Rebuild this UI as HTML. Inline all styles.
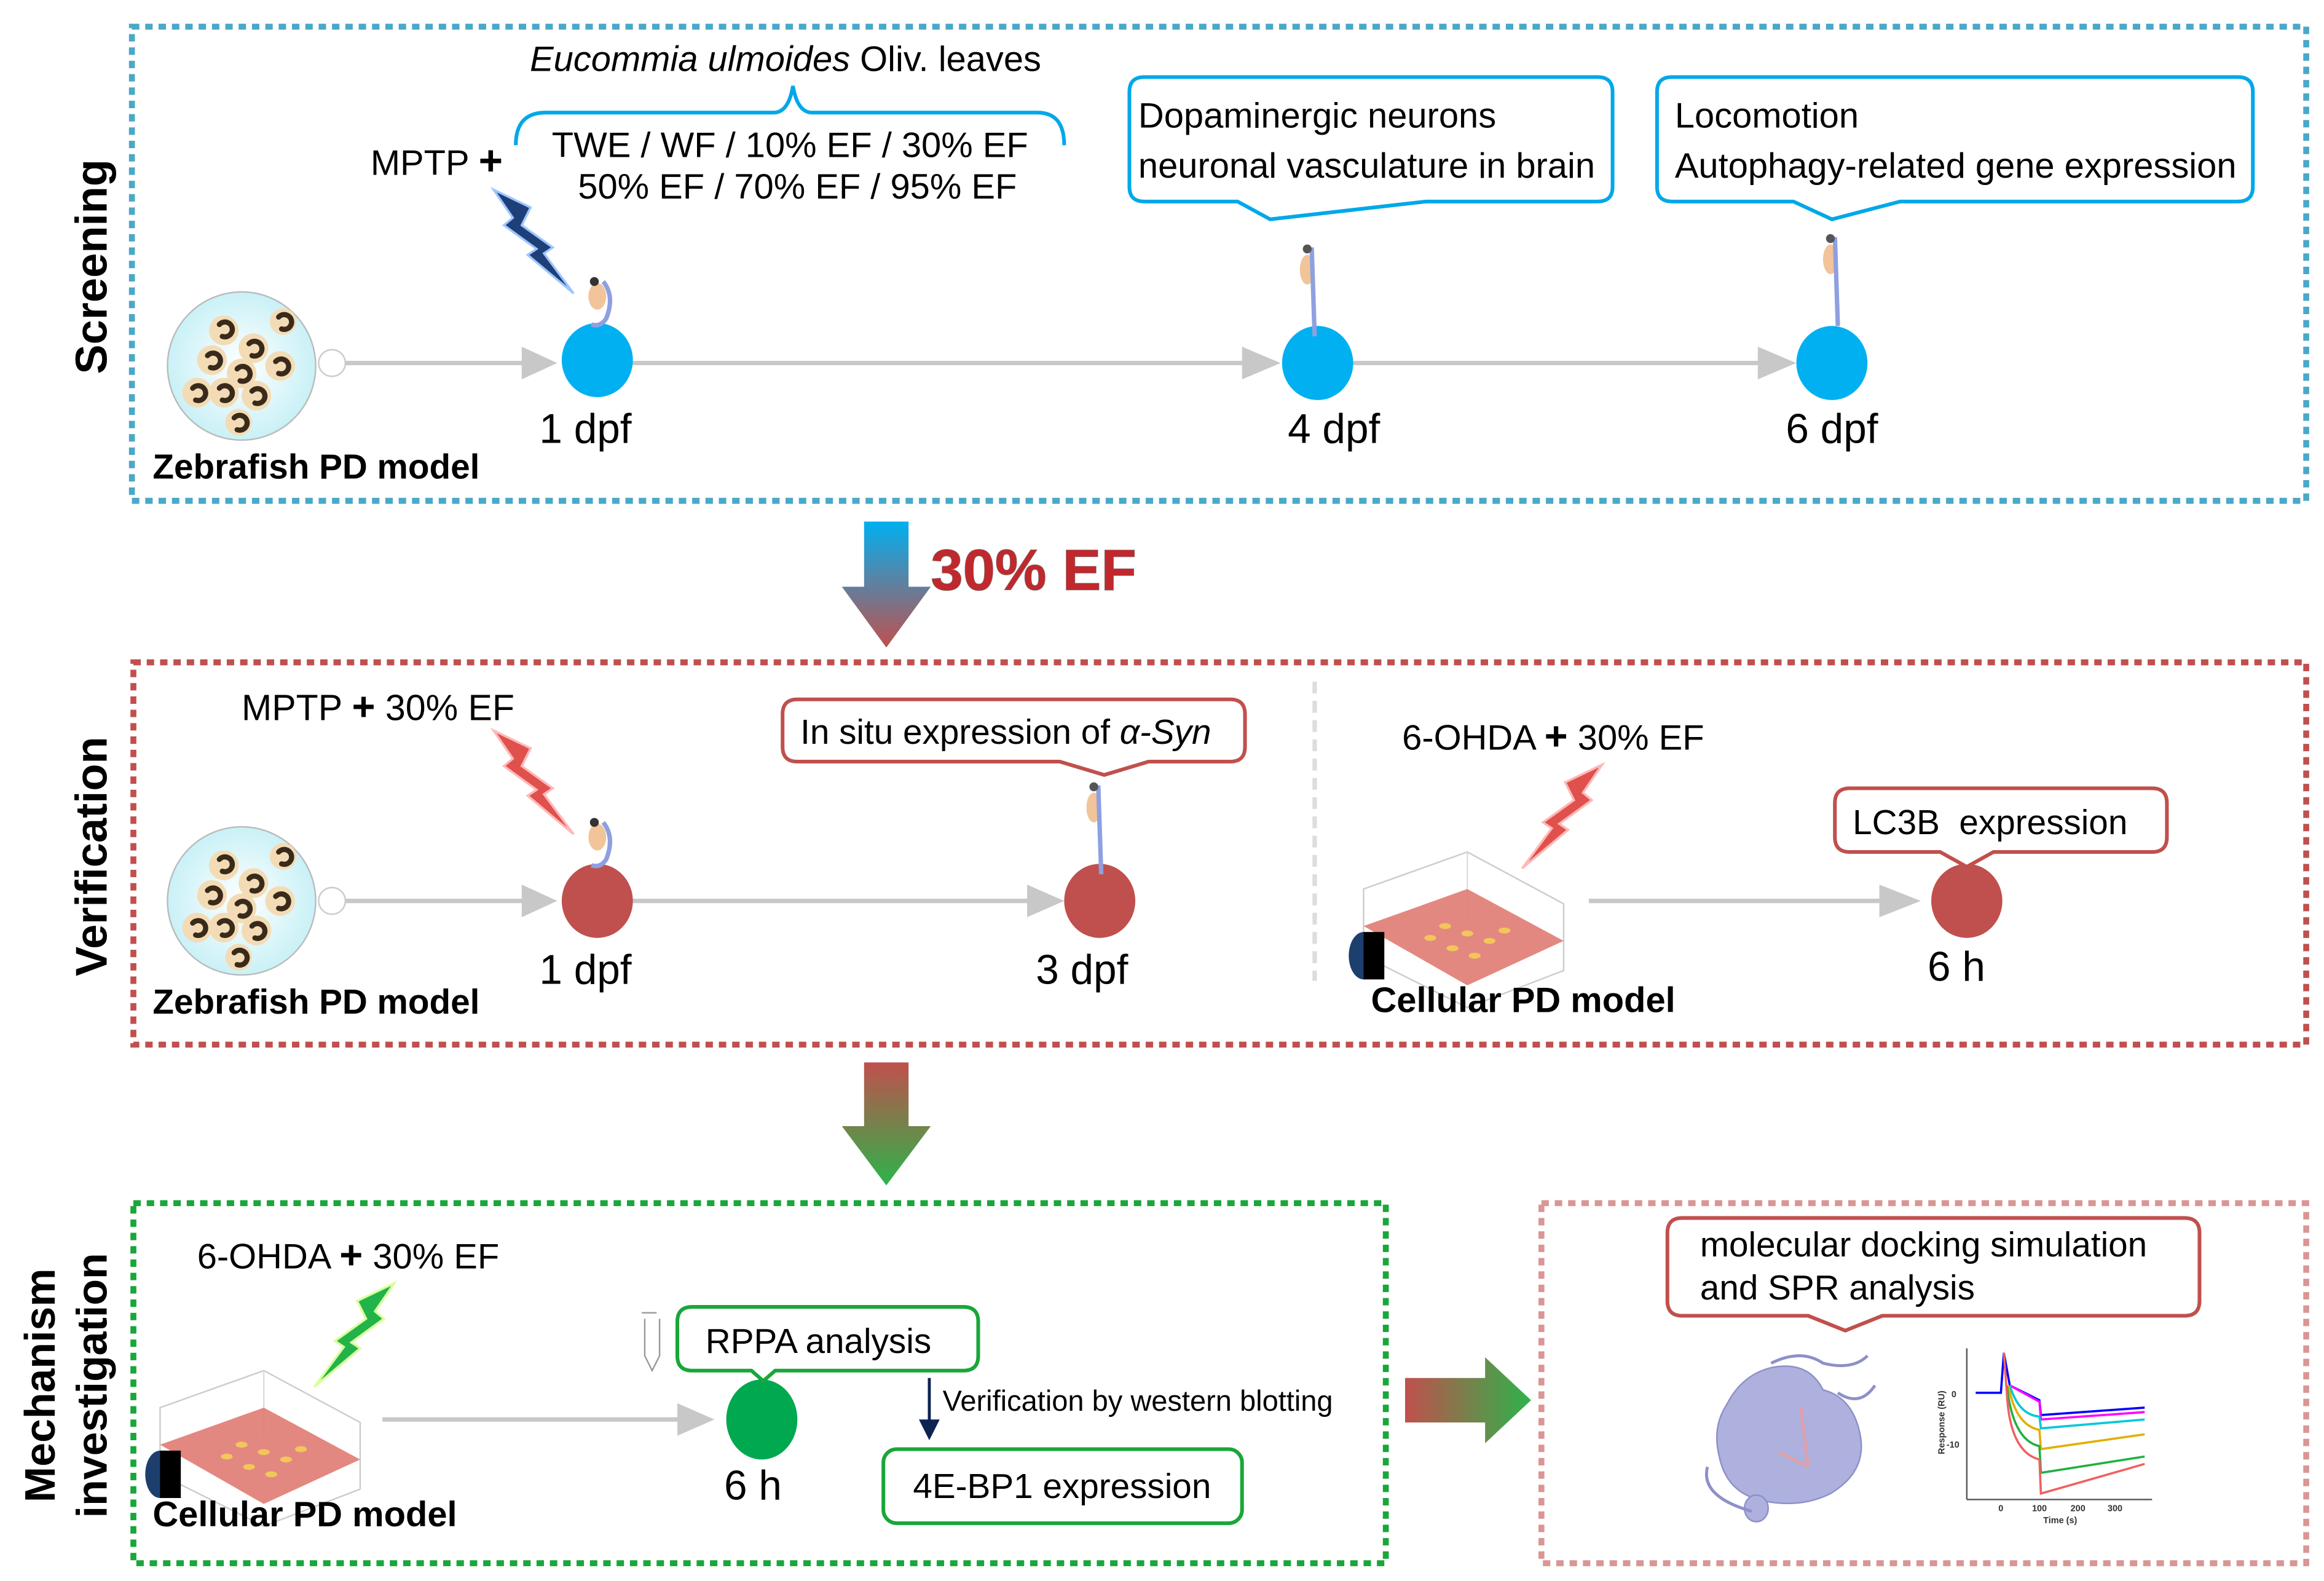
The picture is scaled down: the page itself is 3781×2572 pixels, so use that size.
<!DOCTYPE html>
<html><head><meta charset="utf-8"><style>
html,body{margin:0;padding:0;background:#fff;}
svg{display:block;}
text{font-family:"Liberation Sans",Arial,sans-serif;}
</style></head><body>
<svg width="3781" height="2572" viewBox="0 0 1568 1067" preserveAspectRatio="none" xmlns="http://www.w3.org/2000/svg">
<defs>
<radialGradient id="dish" cx="50%" cy="50%" r="50%"><stop offset="0" stop-color="#ffffff"/><stop offset="1" stop-color="#c9f1f7"/></radialGradient>
<linearGradient id="g1" x1="0" y1="0" x2="0" y2="1"><stop offset="0" stop-color="#00b0f0"/><stop offset="1" stop-color="#c0504d"/></linearGradient>
<linearGradient id="g2" x1="0" y1="0" x2="0" y2="1"><stop offset="0" stop-color="#c0504d"/><stop offset="1" stop-color="#2db34a"/></linearGradient>
<linearGradient id="g3" x1="0" y1="0" x2="1" y2="0"><stop offset="0" stop-color="#c0504d"/><stop offset="1" stop-color="#2db34a"/></linearGradient>
<g id="dishg">
<circle cx="0" cy="0" r="50" fill="url(#dish)" stroke="#bbb" stroke-width="1"/>
<g fill="#f3dcb5"><circle cx="-12" cy="-24" r="10"/><circle cx="28" cy="-30" r="9"/><circle cx="8" cy="-12" r="10"/><circle cx="-20" cy="-4" r="10"/><circle cx="0" cy="5" r="10"/><circle cx="26" cy="0" r="10"/><circle cx="-30" cy="18" r="10"/><circle cx="-12" cy="18" r="10"/><circle cx="10" cy="20" r="10"/><circle cx="-2" cy="38" r="9"/></g>
<g fill="none" stroke="#3a2a1a" stroke-width="3.5" stroke-linecap="round"><path d="M-15,-28 a5,5 0 1,1 2,8"/><path d="M25,-33 a5,5 0 1,1 2,8"/><path d="M5,-15 a5,5 0 1,1 2,8"/><path d="M-23,-7 a5,5 0 1,1 2,8"/><path d="M-3,2 a5,5 0 1,1 2,8"/><path d="M23,-3 a5,5 0 1,1 2,8"/><path d="M-33,15 a5,5 0 1,1 2,8"/><path d="M-15,15 a5,5 0 1,1 2,8"/><path d="M7,17 a5,5 0 1,1 2,8"/><path d="M-5,35 a5,5 0 1,1 2,8"/></g>
</g>
<g id="flask">
<path d="M0,0 L70,-25 L135,10 L135,55 L70,80 L0,45 Z" fill="none" stroke="#ccc" stroke-width="1"/>
<line x1="70" y1="-25" x2="70" y2="20" stroke="#ddd" stroke-width="1"/>
<path d="M0,25 L70,0 L135,35 L70,65 Z" fill="#e07b72" opacity="0.9"/>
<g fill="#f2c65a"><ellipse cx="55" cy="25" rx="4" ry="2"/><ellipse cx="70" cy="30" rx="4" ry="2"/><ellipse cx="85" cy="35" rx="4" ry="2"/><ellipse cx="60" cy="40" rx="4" ry="2"/><ellipse cx="75" cy="45" rx="4" ry="2"/><ellipse cx="95" cy="28" rx="4" ry="2"/><ellipse cx="45" cy="33" rx="4" ry="2"/></g>
<ellipse cx="0" cy="45" rx="10" ry="16" fill="#1c3f6e"/><rect x="0" y="29" width="14" height="32" fill="#000"/>
</g>
<g id="larva1"><ellipse cx="0" cy="0" rx="6" ry="9" fill="#f1c49a"/><path d="M4,-10 q8,10 2,25 q-4,6 -10,4" fill="none" stroke="#8ea0e0" stroke-width="3"/><circle cx="-2" cy="-10" r="3" fill="#333"/></g>
<g id="larva2"><ellipse cx="0" cy="0" rx="5" ry="10" fill="#f1c49a"/><path d="M3,-15 L5,45" fill="none" stroke="#8ea0e0" stroke-width="3"/><circle cx="0" cy="-14" r="3" fill="#555"/></g>
</defs>

<!-- ============ Screening ============ -->
<rect x="89" y="18" width="1467" height="320" fill="none" stroke="#4aa8c8" stroke-width="4" stroke-dasharray="5,4"/>
<text transform="translate(72,180) rotate(-90)" text-anchor="middle" font-size="30" font-weight="bold">Screening</text>
<use href="#dishg" x="163" y="247"/>
<circle cx="224" cy="245" r="9" fill="#fff" stroke="#ccc" stroke-width="1"/>
<g stroke="#c8c8c8" stroke-width="3"><line x1="233" y1="245" x2="355" y2="245"/><line x1="426" y1="245" x2="842" y2="245"/><line x1="912" y1="245" x2="1190" y2="245"/></g>
<g fill="#c8c8c8"><polygon points="352,234 376,245 352,256"/><polygon points="838,234 864,245 838,256"/><polygon points="1186,234 1212,245 1186,256"/></g>
<ellipse cx="403" cy="243" rx="24" ry="25" fill="#00b0f0"/>
<ellipse cx="889" cy="245" rx="24" ry="25" fill="#00b0f0"/>
<ellipse cx="1236" cy="245" rx="24" ry="25" fill="#00b0f0"/>
<text x="395" y="299" text-anchor="middle" font-size="28">1 dpf</text>
<text x="900" y="299" text-anchor="middle" font-size="28">4 dpf</text>
<text x="1236" y="299" text-anchor="middle" font-size="28">6 dpf</text>
<text x="103" y="323" font-size="23.5" font-weight="bold">Zebrafish PD model</text>
<text x="250" y="118" font-size="24">MPTP <tspan font-weight="bold" font-size="28">+</tspan></text>
<polygon points="333,128 358,140 352,152 373,167 367,171 387,198 356,172 362,168 340,152 346,147" fill="#1f3f78" stroke="#9ec6ff" stroke-width="1.5"/>
<use href="#larva1" x="403" y="200"/>
<text x="530" y="48" text-anchor="middle" font-size="24"><tspan font-style="italic">Eucommia ulmoides</tspan> Oliv. leaves</text>
<path d="M348,98 q0,-22 20,-22 L522,76 q10,0 13,-18 q3,18 13,18 L700,76 q18,0 18,22" fill="none" stroke="#00a8e8" stroke-width="2.5"/>
<text x="533" y="106" text-anchor="middle" font-size="24">TWE / WF / 10% EF / 30% EF</text>
<text x="538" y="134" text-anchor="middle" font-size="24">50% EF / 70% EF / 95% EF</text>
<path d="M772,52 L1078,52 q10,0 10,10 L1088,126 q0,10 -10,10 L962,136 L857,148 L835,136 L772,136 q-10,0 -10,-10 L762,62 q0,-10 10,-10 Z" fill="#fff" stroke="#00a8e8" stroke-width="2.5"/>
<text x="768" y="86" font-size="24">Dopaminergic neurons</text>
<text x="768" y="120" font-size="24">neuronal vasculature in brain</text>
<path d="M1128,52 L1510,52 q10,0 10,10 L1520,126 q0,10 -10,10 L1282,136 L1236,148 L1210,136 L1128,136 q-10,0 -10,-10 L1118,62 q0,-10 10,-10 Z" fill="#fff" stroke="#00a8e8" stroke-width="2.5"/>
<text x="1130" y="86" font-size="24">Locomotion</text>
<text x="1130" y="120" font-size="24">Autophagy-related gene expression</text>
<use href="#larva2" x="882" y="182"/>
<use href="#larva2" x="1235" y="175"/>

<!-- arrow 1 -->
<path d="M583,352 L613,352 L613,396 L628,396 L598,437 L568,396 L583,396 Z" fill="url(#g1)"/>
<text x="628" y="398" font-size="39" font-weight="bold" fill="#c0282d" stroke="#777" stroke-width="0.6" style="paint-order:stroke">30% EF</text>

<!-- ============ Verification ============ -->
<rect x="90" y="447" width="1466" height="258" fill="none" stroke="#c0504d" stroke-width="4" stroke-dasharray="5,4"/>
<text transform="translate(72,578) rotate(-90)" text-anchor="middle" font-size="30" font-weight="bold">Verification</text>
<use href="#dishg" x="163" y="608"/>
<circle cx="224" cy="608" r="9" fill="#fff" stroke="#ccc" stroke-width="1"/>
<g stroke="#c8c8c8" stroke-width="3"><line x1="233" y1="608" x2="355" y2="608"/><line x1="426" y1="608" x2="696" y2="608"/><line x1="1072" y1="608" x2="1272" y2="608"/></g>
<g fill="#c8c8c8"><polygon points="352,597 376,608 352,619"/><polygon points="693,597 718,608 693,619"/><polygon points="1268,597 1296,608 1268,619"/></g>
<ellipse cx="403" cy="608" rx="24" ry="25" fill="#c0504d"/>
<ellipse cx="742" cy="608" rx="24" ry="25" fill="#c0504d"/>
<ellipse cx="1327" cy="608" rx="24" ry="25" fill="#c0504d"/>
<text x="395" y="664" text-anchor="middle" font-size="28">1 dpf</text>
<text x="730" y="664" text-anchor="middle" font-size="28">3 dpf</text>
<text x="1320" y="662" text-anchor="middle" font-size="28">6 h</text>
<text x="103" y="684" font-size="23.5" font-weight="bold">Zebrafish PD model</text>
<text x="163" y="486" font-size="24.5">MPTP <tspan font-weight="bold" font-size="27">+</tspan> 30% EF</text>
<polygon points="333,493 358,505 352,517 373,532 367,536 387,563 356,537 362,533 340,517 346,512" fill="#e0504d" stroke="#ffb8b8" stroke-width="1.5"/>
<use href="#larva1" x="403" y="565"/>
<use href="#larva2" x="738" y="545"/>
<path d="M538,472 L830,472 q10,0 10,10 L840,504 q0,10 -10,10 L775,514 L745,523 L715,514 L538,514 q-10,0 -10,-10 L528,482 q0,-10 10,-10 Z" fill="#fff" stroke="#c0504d" stroke-width="2.5"/>
<text x="540" y="502" font-size="23.5">In situ expression of <tspan font-style="italic">α-Syn</tspan></text>
<line x1="887" y1="460" x2="887" y2="662" stroke="#ddd" stroke-width="3" stroke-dasharray="8,5"/>
<text x="946" y="506" font-size="24">6-OHDA <tspan font-weight="bold" font-size="27">+</tspan> 30% EF</text>
<polygon points="1081,516 1056,528 1062,540 1041,555 1047,559 1027,586 1058,560 1052,556 1074,540 1068,535" fill="#e0504d" stroke="#ffb8b8" stroke-width="1.5"/>
<use href="#flask" x="920" y="600"/>
<text x="925" y="683" font-size="24" font-weight="bold">Cellular  PD model</text>
<path d="M1248,532 L1452,532 q10,0 10,10 L1462,565 q0,10 -10,10 L1345,575 L1327,585 L1309,575 L1248,575 q-10,0 -10,-10 L1238,542 q0,-10 10,-10 Z" fill="#fff" stroke="#c0504d" stroke-width="2.5"/>
<text x="1250" y="563" font-size="23.5" xml:space="preserve">LC3B  expression</text>

<!-- arrow 2 -->
<path d="M583,717 L613,717 L613,760 L628,760 L598,800 L568,760 L583,760 Z" fill="url(#g2)"/>

<!-- ============ Mechanism ============ -->
<rect x="90" y="812" width="845" height="243" fill="none" stroke="#1aa63a" stroke-width="4" stroke-dasharray="5,4"/>
<text transform="translate(37,935) rotate(-90)" text-anchor="middle" font-size="29" font-weight="bold">Mechanism</text>
<text transform="translate(72,935) rotate(-90)" text-anchor="middle" font-size="29" font-weight="bold">investigation</text>
<text x="133" y="856" font-size="24">6-OHDA <tspan font-weight="bold" font-size="27">+</tspan> 30% EF</text>
<polygon points="266,866 241,878 247,890 226,905 232,909 212,936 243,910 237,906 259,890 253,885" fill="#22b34a" stroke="#d8ff9a" stroke-width="1.5"/>
<use href="#flask" x="108" y="950"/>
<text x="103" y="1030" font-size="24" font-weight="bold">Cellular  PD model</text>
<line x1="258" y1="958" x2="460" y2="958" stroke="#c8c8c8" stroke-width="3"/>
<polygon points="457,947 482,958 457,969" fill="#c8c8c8"/>
<ellipse cx="514" cy="958" rx="24" ry="27" fill="#00a84f"/>
<text x="508" y="1012" text-anchor="middle" font-size="28">6 h</text>
<path d="M433,886 L443,886 M435,890 L435,915 L440,925 L445,915 L445,890" fill="none" stroke="#999" stroke-width="1"/>
<path d="M467,882 L650,882 q10,0 10,10 L660,915 q0,10 -10,10 L523,925 L515,932 L507,925 L467,925 q-10,0 -10,-10 L457,892 q0,-10 10,-10 Z" fill="#fff" stroke="#1aa63a" stroke-width="2.5"/>
<text x="476" y="913" font-size="23.5">RPPA analysis</text>
<line x1="627" y1="930" x2="627" y2="960" stroke="#0d2350" stroke-width="2"/>
<polygon points="620,958 634,958 627,972" fill="#0d2350"/>
<text x="636" y="952" font-size="19.5">Verification by western blotting</text>
<rect x="596" y="978" width="242" height="50" rx="9" fill="#fff" stroke="#1aa63a" stroke-width="2.5"/>
<text x="616" y="1011" font-size="23.5">4E-BP1 expression</text>

<!-- horizontal arrow -->
<path d="M948,930 L1002,930 L1002,916 L1033,945 L1002,974 L1002,960 L948,960 Z" fill="url(#g3)"/>

<!-- right box -->
<rect x="1040" y="812" width="516" height="243" fill="none" stroke="#d99694" stroke-width="4" stroke-dasharray="5,4"/>
<path d="M1135,822 L1474,822 q10,0 10,10 L1484,878 q0,10 -10,10 L1270,888 L1245,898 L1220,888 L1135,888 q-10,0 -10,-10 L1125,832 q0,-10 10,-10 Z" fill="#fff" stroke="#c0504d" stroke-width="2.5"/>
<text x="1147" y="848" font-size="23.5">molecular docking simulation</text>
<text x="1147" y="877" font-size="23.5">and SPR analysis</text>
<!-- protein -->
<g fill="#aeb0de" stroke="#8d90c8" stroke-width="1">
<path d="M1165,948 q10,-20 30,-25 q25,-5 35,15 q20,5 25,30 q5,25 -20,40 q-20,10 -45,5 q-25,-5 -30,-30 q-5,-20 5,-35 Z"/>
<ellipse cx="1185" cy="1018" rx="8" ry="9"/>
</g>
<path d="M1195,920 q20,-10 35,0 q20,5 30,-5 M1240,940 q15,10 25,-5 M1152,990 q-5,20 30,30" fill="none" stroke="#8d90c8" stroke-width="2"/>
<path d="M1215,950 l5,40 M1200,980 l20,10" stroke="#e0a0a8" stroke-width="2"/>
<!-- SPR chart -->
<g stroke="#555" stroke-width="1" fill="none"><line x1="1327" y1="910" x2="1327" y2="1012"/><line x1="1327" y1="1012" x2="1452" y2="1012"/></g>
<g font-size="6" font-weight="bold" fill="#333"><text x="1320" y="943" text-anchor="end">0</text><text x="1322" y="977" text-anchor="end">-10</text><text x="1350" y="1020" text-anchor="middle">0</text><text x="1376" y="1020" text-anchor="middle">100</text><text x="1402" y="1020" text-anchor="middle">200</text><text x="1427" y="1020" text-anchor="middle">300</text><text x="1390" y="1028" text-anchor="middle">Time (s)</text><text transform="translate(1312,960) rotate(-90)" text-anchor="middle">Response (RU)</text></g>
<g fill="none" stroke-width="1.5">
<path d="M1333,940 L1350,940 L1352,913 L1356,935 L1376,945 L1377,955 L1447,950" stroke="#0000ff"/>
<path d="M1356,935 L1376,946 L1377,958 L1447,953" stroke="#ff00ff"/>
<path d="M1356,935 Q1362,955 1376,956 L1377,964 L1447,958" stroke="#00c8d8"/>
<path d="M1355,935 Q1360,962 1376,965 L1377,978 L1447,968" stroke="#e0b000"/>
<path d="M1354,935 Q1358,972 1376,976 L1377,994 L1447,983" stroke="#20b040"/>
<path d="M1352,913 L1354,940 Q1356,980 1376,985 L1377,1008 L1447,988" stroke="#f06060"/>
</g>
</svg>
</body></html>
